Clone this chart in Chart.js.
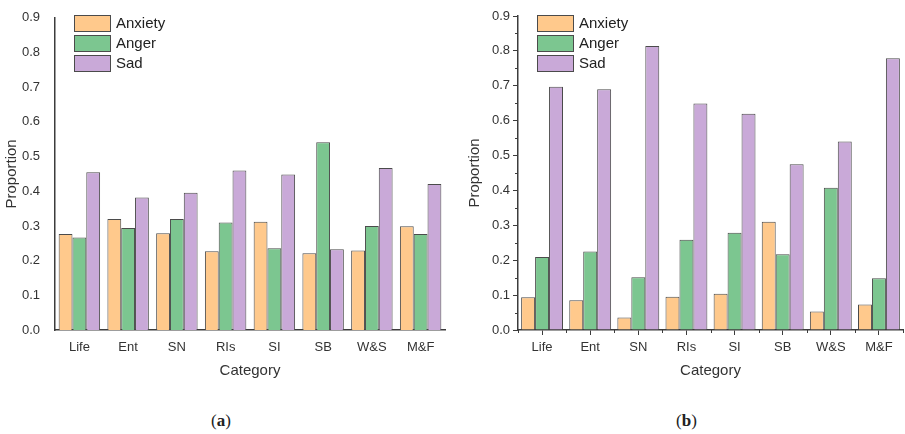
<!DOCTYPE html>
<html>
<head>
<meta charset="utf-8">
<script src="https://cdn.jsdelivr.net/npm/chart.js@4.4.1/dist/chart.umd.min.js"></script>
<style>
  body { margin: 0; background: #fff; }
  #wrap { position: relative; width: 905px; height: 434px; }
  .panel { position: absolute; top: 0; height: 392px; }
  #panelA { left: 0; width: 455px; }
  #panelB { left: 455px; width: 450px; }
  .cap { position: absolute; top: 411px; font: 17px "Liberation Serif", "Times New Roman", serif; color: #222; }
  .cap b { font-weight: bold; }
</style>
</head>
<body>
<div id="wrap">
  <div class="panel" id="panelA"><canvas id="chartA"></canvas></div>
  <div class="panel" id="panelB"><canvas id="chartB"></canvas></div>
  <div class="cap" style="left:211px">(<b>a</b>)</div>
  <div class="cap" style="left:676px">(<b>b</b>)</div>
</div>
<script>
const categories = ["Life", "Ent", "SN", "RIs", "SI", "SB", "W&S", "M&F"];
const seriesNames = ["Anxiety", "Anger", "Sad"];
const seriesColors = ["#ffc98c", "#7cc690", "#c9a9d8"];

// panel (a)
const anxietyA = [0.277, 0.320, 0.279, 0.227, 0.312, 0.221, 0.229, 0.299];
const angerA   = [0.267, 0.294, 0.320, 0.310, 0.236, 0.541, 0.300, 0.277];
const sadA     = [0.455, 0.382, 0.396, 0.460, 0.448, 0.233, 0.467, 0.421];

// panel (b)
const anxietyB = [0.094, 0.085, 0.036, 0.095, 0.104, 0.310, 0.053, 0.073];
const angerB   = [0.209, 0.225, 0.151, 0.259, 0.279, 0.217, 0.408, 0.148];
const sadB     = [0.697, 0.690, 0.814, 0.649, 0.620, 0.475, 0.540, 0.779];

const yTicks = [0, 0.1, 0.2, 0.3, 0.4, 0.5, 0.6, 0.7, 0.8, 0.9];

const FONT = "'Liberation Sans', Arial, sans-serif";
const AXIS = "#3c3c3c";

Chart.defaults.font.family = FONT;
Chart.defaults.color = "#333";

// legend drawn inside plot, stacked boxes like the original
const boxLegend = {
  id: "boxLegend",
  afterDraw(chart) {
    const ctx = chart.ctx;
    const x = chart.chartArea.left + 19;
    let y = 15;
    ctx.save();
    chart.data.datasets.forEach(ds => {
      ctx.fillStyle = ds.backgroundColor;
      ctx.fillRect(x, y, 37, 17);
      ctx.strokeStyle = "#4b4b4b";
      ctx.lineWidth = 1;
      ctx.strokeRect(x + 0.5, y + 0.5, 36, 16);
      ctx.fillStyle = "#222";
      ctx.font = "15px " + FONT;
      ctx.textBaseline = "middle";
      ctx.fillText(ds.label, x + 42, y + 9);
      y += 20;
    });
    ctx.restore();
  }
};

// short minor ticks between major ones (panel b only)
const minorTicks = {
  id: "minorTicks",
  afterDraw(chart) {
    const ctx = chart.ctx;
    const xs = chart.scales.x, ys = chart.scales.y;
    ctx.save();
    ctx.strokeStyle = AXIS;
    ctx.lineWidth = 1;
    ctx.beginPath();
    for (let i = 0; i < yTicks.length - 1; i++) {
      const py = Math.round(ys.getPixelForValue((yTicks[i] + yTicks[i + 1]) / 2)) + 0.5;
      ctx.moveTo(xs.left - 3, py);
      ctx.lineTo(xs.left, py);
    }
    for (let i = 0; i <= categories.length; i++) {
      const px = Math.round(xs.getPixelForValue(i - 0.5)) + 0.5;
      ctx.moveTo(px, ys.bottom);
      ctx.lineTo(px, ys.bottom + 3);
    }
    ctx.stroke();
    ctx.restore();
  }
};

function makeChart(id, anxiety, anger, sad, withTicks, yWidth, titlePad, rightPad, catPct) {
  const data = [anxiety, anger, sad];
  return new Chart(document.getElementById(id), {
    type: "bar",
    data: {
      labels: categories,
      datasets: seriesNames.map((name, i) => ({
        label: name,
        data: data[i],
        backgroundColor: seriesColors[i],
        borderColor: "#4b4b4b",
        borderWidth: 1,
        barPercentage: 1,
        categoryPercentage: catPct
      }))
    },
    options: {
      responsive: true,
      maintainAspectRatio: false,
      animation: false,
      layout: { padding: { top: 16, right: rightPad, left: 0, bottom: 0 } },
      plugins: {
        legend: { display: false },
        tooltip: { enabled: false }
      },
      scales: {
        x: {
          afterFit: s => { s.height = 62; },
          border: { display: true, color: AXIS, width: 1.5 },
          grid: {
            display: withTicks,
            drawOnChartArea: false,
            offset: false,
            tickLength: 5,
            color: AXIS
          },
          ticks: { font: { size: 13 }, padding: 5, color: "#333" },
          title: {
            display: true,
            text: "Category",
            font: { size: 15 },
            color: "#333",
            padding: { top: 0, bottom: 12 }
          }
        },
        y: {
          min: 0,
          max: 0.9,
          afterFit: s => { s.width = yWidth; },
          afterBuildTicks: s => { s.ticks = yTicks.map(v => ({ value: v })); },
          border: { display: true, color: AXIS, width: 1.5 },
          grid: {
            display: withTicks,
            drawOnChartArea: false,
            tickLength: 5,
            color: AXIS
          },
          ticks: {
            font: { size: 13 },
            padding: withTicks ? 3 : 10,
            color: "#333",
            callback: v => Number(v).toFixed(1)
          },
          title: {
            display: true,
            text: "Proportion",
            font: { size: 15 },
            color: "#333",
            padding: { top: titlePad, bottom: 0 }
          }
        }
      }
    },
    plugins: withTicks ? [boxLegend, minorTicks] : [boxLegend]
  });
}

makeChart("chartA", anxietyA, angerA, sadA, false, 55, 3, 10, 0.85);
makeChart("chartB", anxietyB, angerB, sadB, true, 63, 11, 2, 0.87);
</script>
</body>
</html>
